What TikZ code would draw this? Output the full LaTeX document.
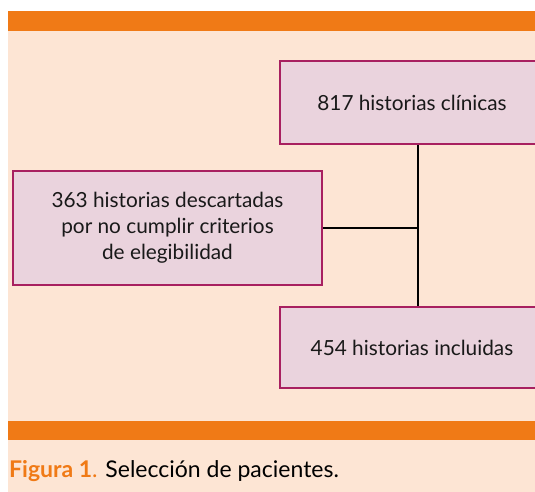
\documentclass[tikz,border=0pt]{standalone}
\usepackage{fontspec}
\setmainfont{Lato}
\definecolor{barorange}{RGB}{240,122,22}
\definecolor{peach}{RGB}{253,229,212}
\definecolor{boxfill}{RGB}{234,211,221}
\definecolor{boxline}{RGB}{168,32,96}
\begin{document}
\begin{tikzpicture}[x=1pt,y=-1pt,
  flowbox/.style={draw=boxline,fill=boxfill,line width=2pt,inner sep=0pt,
    align=center,font=\fontsize{20.8}{26}\selectfont,text=black!90},
  conn/.style={draw=black,line width=1.6pt}]
\useasboundingbox (0,0) rectangle (535,492);
\clip (0,0) rectangle (535,492);
\fill[white] (0,0) rectangle (535,492);
\fill[peach] (8,11) rectangle (535,492);
\fill[barorange] (8,11) rectangle (535,31);
\fill[barorange] (8,421) rectangle (535,440);
\node[flowbox,minimum width=264pt,minimum height=83pt] (top) at (412,102.5) {817 historias clínicas};
\node[flowbox,minimum width=309pt,minimum height=114pt] (left) at (167.5,228) {363 historias descartadas\\por no cumplir criterios\\de elegibilidad};
\node[flowbox,minimum width=264pt,minimum height=81pt] (bot) at (412,347.5) {454 historias incluidas};
\coordinate (j) at (418,228);
\draw[conn] (j |- top.south) -- (j |- bot.north);
\draw[conn] (left.east) -- (j);
\node[anchor=base west,inner sep=0pt,font=\fontsize{23}{28}\selectfont] (cap) at (9,477)
  {\textcolor{barorange}{\textbf{Figura 1}.} Selección de pacientes.};
\end{tikzpicture}
\end{document}
